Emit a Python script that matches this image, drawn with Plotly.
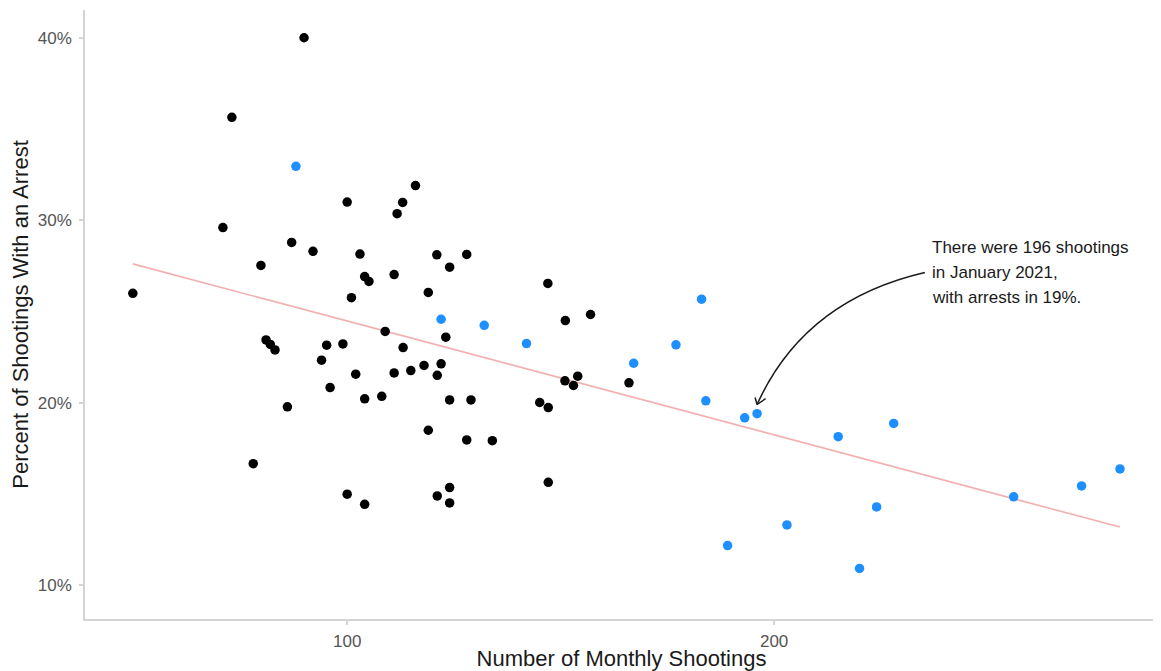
import numpy as np
import plotly.graph_objects as go

# Black points: months before 2020 surge (shootings, % with an arrest)
black_shootings = [49.8, 73.0, 89.9, 70.9, 79.8, 87.0, 92.0, 81.0, 82.0, 83.1,
                   78.0, 86.0, 100.0, 100.0, 104.1, 94.0, 95.2, 99.0, 96.0, 102.0,
                   104.1, 108.1, 111.0, 101.0, 103.0, 104.1, 105.1, 108.9, 111.0, 111.7,
                   113.0, 116.0, 113.1, 114.9, 118.0, 121.0, 124.0, 128.0, 119.0, 123.1,
                   122.0, 121.1, 119.0, 124.0, 129.0, 128.0, 134.0, 121.1, 124.0, 124.0,
                   145.1, 147.1, 147.1, 151.0, 153.0, 154.0, 166.0, 147.0, 151.1, 157.0]
black_pct = [26.0, 35.64, 40.0, 29.6, 27.53, 28.79, 28.30, 23.45, 23.2, 22.9,
             16.67, 19.78, 31.0, 15.0, 14.44, 22.34, 23.16, 23.23, 20.84, 21.57,
             20.22, 20.36, 21.64, 25.76, 28.15, 26.92, 26.65, 23.91, 27.03, 30.36,
             30.98, 31.90, 23.03, 21.77, 22.05, 28.11, 27.43, 28.13, 26.05, 23.6,
             22.14, 21.51, 18.5, 20.16, 20.16, 17.97, 17.93, 14.9, 15.36, 14.52,
             20.02, 19.74, 15.65, 21.21, 20.95, 21.46, 21.1, 26.54, 24.51, 24.84]

# Blue points: highlighted months
blue_shootings = [88.0, 122.0, 132.1, 142.0, 167.1, 177.0, 183.0, 184.0, 193.1, 196.0,
                  189.1, 203.0, 215.0, 228.0, 224.0, 220.0, 256.1, 272.0, 281.0]
blue_pct = [32.96, 24.58, 24.25, 23.25, 22.17, 23.18, 25.68, 20.11, 19.18, 19.41,
            12.18, 13.31, 18.15, 18.87, 14.3, 10.93, 14.85, 15.45, 16.38]

y_tick_vals = [10, 20, 30, 40]
y_tick_text = ["10%", "20%", "30%", "40%"]
x_tick_vals = [100, 200]
x_tick_text = ["100", "200"]

annotation_lines = ["There were 196 shootings", "in January 2021,", "with arrests in 19%."]

FONT = "Liberation Sans, Arial, sans-serif"

# Linear fit over all months
all_x = np.array(black_shootings + blue_shootings)
all_y = np.array(black_pct + blue_pct)
slope, intercept = np.polyfit(all_x, all_y, 1)
fit_x = np.array([all_x.min(), all_x.max()])
fit_y = slope * fit_x + intercept

fig = go.Figure()
fig.add_trace(go.Scatter(x=fit_x, y=fit_y, mode="lines",
                         line=dict(color="#F2AFAF", width=1.6),
                         hoverinfo="skip", showlegend=False))
fig.add_trace(go.Scatter(x=black_shootings, y=black_pct, mode="markers",
                         marker=dict(color="#000000", size=9.5),
                         showlegend=False))
fig.add_trace(go.Scatter(x=blue_shootings, y=blue_pct, mode="markers",
                         marker=dict(color="#1E8FFF", size=9.5),
                         showlegend=False))

# Highlighted point (January 2021)
hx, hy = 196.0, 19.41
tip_y = hy + 0.5
start_x, start_y = 235.3, 27.14
ctrl_x, ctrl_y = 207.0, 25.61
INK = "#1a1a1a"

fig.add_shape(type="path", xref="x", yref="y",
              path=f"M {start_x},{start_y} Q {ctrl_x},{ctrl_y} {hx},{tip_y}",
              line=dict(color=INK, width=1.5))
# open chevron arrowhead: two short strokes ending at the tip
for arm_ax, arm_ay in [(-2.4, -8.5), (10.0, -6.8)]:
    fig.add_annotation(x=hx, y=tip_y, xref="x", yref="y", text="", showarrow=True,
                       ax=arm_ax, ay=arm_ay, axref="pixel", ayref="pixel",
                       arrowhead=0, arrowwidth=1.5, arrowcolor=INK,
                       standoff=0, startstandoff=0)

line_gap = 25 / 18.24  # 25 px between text lines, in data units
for i, line in enumerate(annotation_lines):
    fig.add_annotation(x=start_x, y=start_y + line_gap * (1 - i), xref="x", yref="y",
                       text=line, showarrow=False,
                       xanchor="left", yanchor="middle", align="left", xshift=5,
                       font=dict(family=FONT, size=17, color=INK))

# The page body adds an 8px offset, so the figure is sized to fit the window.
fig.update_layout(
    width=1153, height=663,
    margin=dict(l=77, r=3, t=2, b=52),
    paper_bgcolor="white", plot_bgcolor="white",
    font=dict(family=FONT),
    xaxis=dict(range=[38.6, 289.9], tickvals=x_tick_vals, ticktext=x_tick_text,
               automargin=False,
               showgrid=False, zeroline=False, showline=True,
               linecolor="#d4d4d4", linewidth=1.5,
               ticks="outside", ticklen=4, tickcolor="#d4d4d4", tickwidth=1.5,
               ticklabelstandoff=2,
               tickfont=dict(family=FONT, size=17, color="#555555"),
               title=dict(text="Number of Monthly Shootings", standoff=6,
                          font=dict(family=FONT, size=22, color=INK))),
    yaxis=dict(range=[8.16, 41.52], tickvals=y_tick_vals, ticktext=y_tick_text,
               automargin=False,
               showgrid=False, zeroline=False, showline=True,
               linecolor="#d4d4d4", linewidth=1.5,
               ticks="outside", ticklen=4, tickcolor="#d4d4d4", tickwidth=1.5,
               ticklabelstandoff=4,
               tickfont=dict(family=FONT, size=17, color="#555555"),
               title=dict(text="Percent of Shootings With an Arrest", standoff=8,
                          font=dict(family=FONT, size=22, color=INK))),
)

fig.write_html("out.html")
